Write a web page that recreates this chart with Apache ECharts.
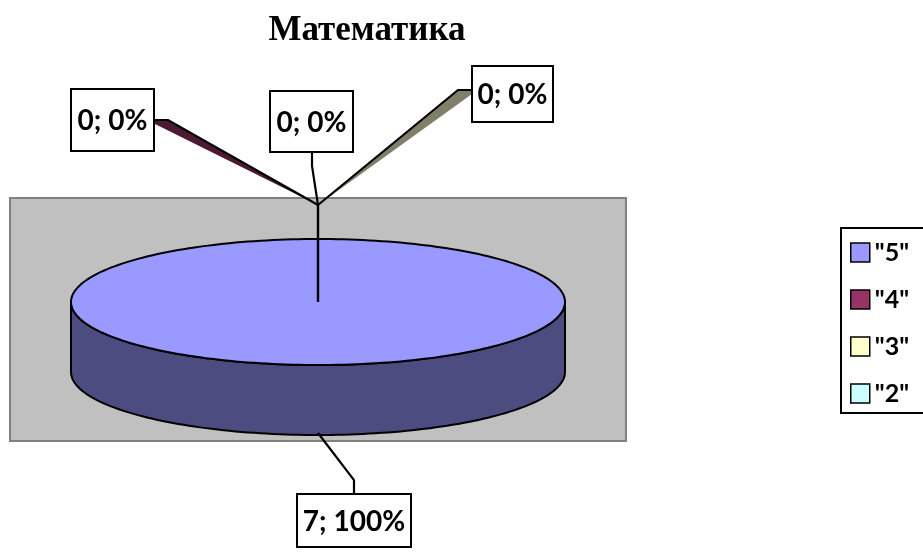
<!DOCTYPE html>
<html>
<head>
<meta charset="utf-8">
<script src="https://cdn.jsdelivr.net/npm/echarts@6/dist/echarts.min.js"></script>
<style>
html,body{margin:0;padding:0;background:#fff;}
#chart{width:923px;height:552px;}
</style>
</head>
<body>
<div id="chart"></div>
<script>
// данные
var titleText = 'Математика';
var categories = ['"5"', '"4"', '"3"', '"2"'];
var values = [7, 0, 0, 0];

// цвета секторов и их боковин
var colors = ['#9999FF', '#993366', '#FFFFCC', '#CCFFFF'];
var sideColors = ['#4C4C80', '#4D1933', '#80806A', '#668080'];

// геометрия объемного круга
var cx = 318, cy = 302, rx = 247, ry = 63, depth = 70;

// подписи: рамка и линия выноски
var labelLayout = [
	{x: 297, y: 494, w: 114, h: 53, line: [[318, 433], [354, 480], [354, 494]]},
	{x: 71, y: 89, w: 83, h: 62, line: [[155, 120], [168, 120], [318, 205]], shade: [[155, 120], [168, 120], [318, 205], [155, 124]]},
	{x: 472, y: 66, w: 81, h: 56, line: [[472, 90], [458, 90], [318, 205]], shade: [[458, 90], [472, 90], [472, 94], [318, 205]]},
	{x: 270, y: 91, w: 83, h: 61, line: [[312, 152], [312, 166], [318, 205]]}
];

var total = 0;
for (var i = 0; i < values.length; i++) {
	total += values[i];
}
var starts = [];
var cum = 0;
for (var i = 0; i < values.length; i++) {
	starts.push(cum);
	cum += values[i];
}

function pt(a, dy) {
	return [cx + rx * Math.sin(a), cy - ry * Math.cos(a) + (dy || 0)];
}

function arcPoints(a1, a2, dy) {
	var pts = [];
	var n = Math.max(2, Math.ceil(Math.abs(a2 - a1) / (Math.PI * 2) * 240));
	for (var k = 0; k <= n; k++) {
		pts.push(pt(a1 + (a2 - a1) * k / n, dy));
	}
	return pts;
}

function makeRender(idx) {
	return function (params, api) {
		var v = api.value(0);
		if (!v || !total) {
			return null;
		}
		var a1 = starts[idx] / total * Math.PI * 2;
		var a2 = (starts[idx] + v) / total * Math.PI * 2;
		var full = (v / total) >= 0.9999;
		var children = [];
		//боковина видна только в передней половине
		var b1 = Math.max(a1, Math.PI / 2);
		var b2 = Math.min(a2, Math.PI * 3 / 2);
		if (b2 > b1) {
			var side = arcPoints(b1, b2, 0).concat(arcPoints(b2, b1, depth));
			children.push({
				type: 'polygon',
				shape: {points: side},
				style: {fill: sideColors[idx], stroke: '#000', lineWidth: 2, lineJoin: 'round'}
			});
		}
		var top = arcPoints(a1, a2, 0);
		if (!full) {
			top.unshift([cx, cy]);
		}
		children.push({
			type: 'polygon',
			shape: {points: top},
			style: {fill: colors[idx], stroke: '#000', lineWidth: 2, lineJoin: 'round'}
		});
		return {type: 'group', children: children};
	};
}

var series = [];
for (var i = 0; i < categories.length; i++) {
	series.push({
		type: 'custom',
		name: categories[i],
		coordinateSystem: 'none',
		data: [[values[i]]],
		itemStyle: {color: colors[i]},
		renderItem: makeRender(i),
		z: 2
	});
}

var graphics = [];
// область построения
graphics.push({
	type: 'rect',
	shape: {x: 10, y: 198, width: 616, height: 243},
	style: {fill: '#C0C0C0', stroke: '#808080', lineWidth: 2},
	z: 0
});
// ствол выносок к центру
graphics.push({
	type: 'polyline',
	shape: {points: [[318, 205], [318, 302]]},
	style: {stroke: '#000', lineWidth: 2.4, fill: null},
	z: 10
});
for (var i = 0; i < labelLayout.length; i++) {
	var L = labelLayout[i];
	var pct = total ? Math.round(values[i] / total * 100) : 0;
	if (L.shade) {
		graphics.push({
			type: 'polygon',
			shape: {points: L.shade},
			style: {fill: sideColors[i], stroke: null},
			z: 9
		});
	}
	graphics.push({
		type: 'polyline',
		shape: {points: L.line},
		style: {stroke: '#000', lineWidth: 2.2, fill: null},
		z: 10
	});
	graphics.push({
		type: 'rect',
		shape: {x: L.x, y: L.y, width: L.w, height: L.h},
		style: {fill: '#fff', stroke: '#000', lineWidth: 2},
		z: 11
	});
	graphics.push({
		type: 'text',
		x: L.x + L.w / 2,
		y: L.y + L.h / 2 + 1,
		style: {
			text: values[i] + '; ' + pct + '%',
			font: 'bold 28px Lato',
			fill: '#000',
			align: 'center',
			verticalAlign: 'middle'
		},
		z: 12
	});
}
// рамка легенды
graphics.push({
	type: 'rect',
	shape: {x: 841, y: 228, width: 120, height: 185},
	style: {fill: '#fff', stroke: '#000', lineWidth: 2},
	z: 0
});

var myChart = echarts.init(document.getElementById('chart'));
var option = {
	backgroundColor: '#fff',
	animation: false,
	title: {
		text: titleText,
		left: 362,
		top: 8,
		textAlign: 'center',
		textStyle: {fontFamily: 'Liberation Serif', fontWeight: 'bold', fontSize: 35, color: '#000'}
	},
	legend: {
		orient: 'vertical',
		left: 850,
		top: 240,
		padding: 0,
		icon: 'rect',
		itemWidth: 19,
		itemHeight: 19,
		itemGap: 22,
		selectedMode: false,
		itemStyle: {borderColor: '#000', borderWidth: 1.5},
		textStyle: {fontFamily: 'Lato', fontWeight: 'bold', fontSize: 25, color: '#000'},
		data: categories
	},
	graphic: graphics,
	series: series
};
myChart.setOption(option);
</script>
</body>
</html>
